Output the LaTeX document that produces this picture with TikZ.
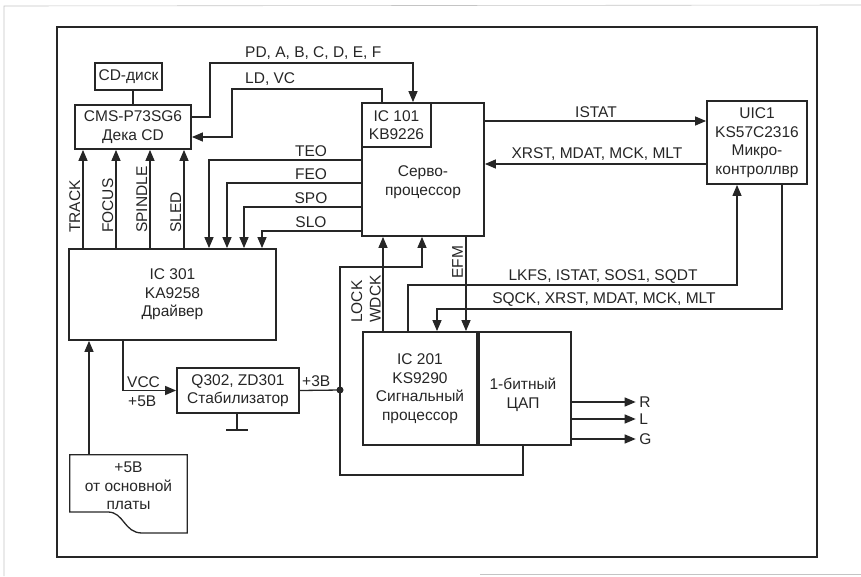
\documentclass[tikz,border=0pt]{standalone}
\usepackage{fontspec}
\setmainfont{Liberation Sans}
\usepackage{tikz}
\usetikzlibrary{arrows.meta,positioning,calc}
\definecolor{ink}{HTML}{262626}
\definecolor{scan}{HTML}{C4C4C4}

\tikzset{
  blk/.style={draw=ink, line width=1.8pt, align=center, inner sep=0pt, text=ink},
  wire/.style={draw=ink, line width=1.3pt},
  sig/.style={wire, -{Triangle[length=11pt,width=9pt]}},
  lbl/.style={text=ink, inner sep=0pt},
  vlbl/.style={lbl, rotate=90, anchor=south west, align=left},
}

\begin{document}
\begin{tikzpicture}[x=1pt,y=-1pt,font=\fontsize{15.5}{18.5}\selectfont]
  \useasboundingbox (0,0) rectangle (861,576);
  \draw[scan,line width=0.6pt] (4,576) -- (4,6) -- (861,5);
  \draw[scan,line width=0.6pt] (480,574) -- (861,574);
  \draw[ink,line width=1.3pt] (57,27) rectangle (817,557);

  % blocks
  \node[blk,minimum width=67pt,minimum height=27pt] (disc) at (128.5,76.5) {CD-диск};
  \node[blk,minimum width=116pt,minimum height=44pt] (cms) at (133,127) {CMS-P73SG6\\Дека CD};
  \node[blk,minimum width=122pt,minimum height=133pt] (servo) at (423,169.5) {};
  \node[blk,anchor=north west,minimum width=69pt,minimum height=44pt] (ic101) at (servo.north west) {IC 101\\KB9226};
  \node[lbl,align=center] (servotxt) at (423,182) {Серво-\\процессор};
  \node[blk,minimum width=100pt,minimum height=83pt] (uic) at (757,142.5) {UIC1\\KS57C2316\\Микро-\\контроллвр};
  \node[blk,minimum width=207pt,minimum height=91pt] (drv) at (172.5,294.5) {IC 301\\KA9258\\Драйвер};
  \node[blk,minimum width=122pt,minimum height=45pt] (stab) at (238,390.5) {Q302, ZD301\\Стабилизатор};
  \node[blk,minimum width=114pt,minimum height=113pt] (dsp) at (420,388.5) {IC 201\\KS9290\\Сигнальный\\процессор};
  \node[blk,anchor=west,minimum width=92pt,minimum height=113pt] (dac) at (dsp.east) {};
  \node[lbl,align=center] (dactxt) at (523,395) {1-битный\\ЦАП};
  \node[lbl,align=center,minimum width=117pt,minimum height=62pt] (supply) at (128.5,486) {+5В\\от основной\\платы};
  \draw[wire] (supply.north west) -- (supply.north west |- 0,512) -- (108,512)
    .. controls (124,512) and (124,533) .. (142,533) -- (supply.north east |- 0,533)
    -- (supply.north east) -- cycle;

  % disc and deck
  \draw[wire] (cms.north |- disc.south) -- (cms.north);
  \draw[sig] (cms.east |- 0,117) -| (210,63) -| (servo.north -| 413,0);
  \node[lbl,anchor=base west] (pdlbl) at (245,57) {PD, A, B, C, D, E, F};
  \draw[sig] (servo.north -| 382,0) |- (232,89) |- (cms.east |- 0,137);
  \node[lbl,anchor=base west] (ldlbl) at (245,83) {LD, VC};

  \foreach \x/\lab in {83/TRACK,116/FOCUS,150/SPINDLE,184/SLED}{
    \draw[sig] (drv.north -| \x,0) -- (cms.south -| \x,0);
    \node[vlbl] at (\x-2.5,233) {\lab};
  }
  \foreach \y/\x/\lab in {160/209/TEO,183/227/FEO,207/244/SPO,231/262/SLO}{
    \draw[sig] (servo.west |- 0,\y) -| (drv.north -| \x,0);
    \node[lbl,anchor=base] at (311,\y-3.5) {\lab};
  }

  % servo and controller
  \draw[sig] (servo.east |- 0,121) -- (uic.west |- 0,121);
  \node[lbl,anchor=base] (istatlbl) at (596,117) {ISTAT};
  \draw[sig] (uic.west |- 0,164) -- (servo.east |- 0,164);
  \node[lbl,anchor=base] (xrstlbl) at (597,158) {XRST, MDAT, MCK, MLT};

  % signal processor
  \draw[sig] (dsp.north -| 408,0) |- (737,285) -- (uic.south -| 737,0);
  \node[lbl,anchor=base] (lkfslbl) at (603,280) {LKFS, ISTAT, SOS1, SQDT};
  \draw[sig] (uic.south -| 782,0) |- (437,309) -- (dsp.north -| 437,0);
  \node[lbl,anchor=base] (sqcklbl) at (604,303) {SQCK, XRST, MDAT, MCK, MLT};
  \draw[sig] (servo.south -| 466,0) -- (dsp.north -| 466,0);
  \node[vlbl] (efmlbl) at (463,279) {EFM};
  \draw[sig] (dsp.north -| 383,0) -- (servo.south -| 383,0);
  \node[vlbl] (locklbl) at (381,323) {LOCK\\WDCK};

  \coordinate (jn) at (340,390);
  \draw[sig] (dac.south -| 523,0) |- (jn |- 0,475) -- (jn |- 0,267) -| (servo.south -| 422,0);
  \draw[wire] (stab.east) -- (jn);
  \fill[ink] (jn) circle (3.5pt);
  \node[lbl,anchor=base west] (v3lbl) at (302,386) {+3В};

  % power
  \draw[sig] (drv.south -| 123,0) |- (stab.west);
  \node[lbl,anchor=base west] (vcclbl) at (127,387) {VCC};
  \node[lbl,anchor=base west] (v5lbl) at (128,406) {+5В};
  \draw[wire] (stab.south -| 237,0) -- ++(0,16) coordinate (gnd);
  \draw[wire] ([xshift=-11pt]gnd) -- ([xshift=11pt]gnd);
  \draw[sig] (supply.north -| 89,0) -- (drv.south -| 89,0);

  \foreach \y/\lab in {402/R,419/L,439/G}
    \draw[sig] (dac.east |- 0,\y) -- ++(64,0) node[lbl,anchor=west,xshift=3pt] {\lab};
\end{tikzpicture}
\end{document}
